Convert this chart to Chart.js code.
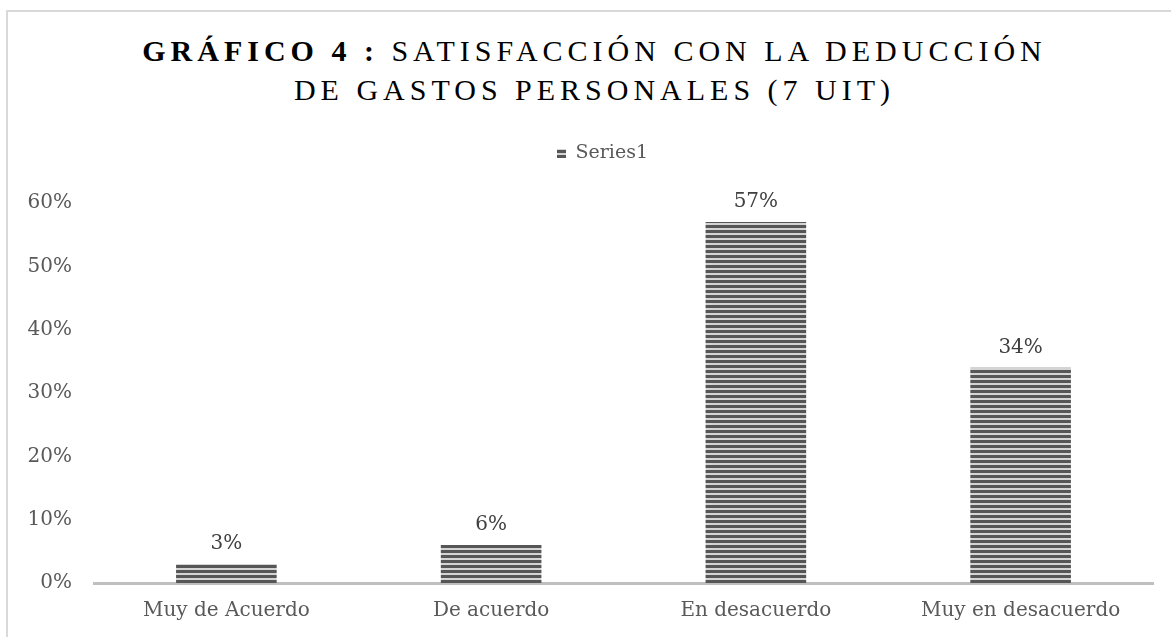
<!DOCTYPE html>
<html>
<head>
<meta charset="utf-8">
<script src="https://cdn.jsdelivr.net/npm/chart.js@4.4.0/dist/chart.umd.min.js"></script>
<style>
html, body { margin: 0; padding: 0; background: #fff; }
#wrap { position: relative; width: 1171px; height: 637px; overflow: hidden; }
#frame { position: absolute; left: 6px; top: 10px; width: 1300px; height: 800px; border-top: 2px solid #d9d9d9; border-left: 2px solid #d9d9d9; }
#title { position: absolute; left: 9px; top: 31px; width: 1171px; text-align: center; font-family: "Liberation Serif", serif; font-size: 30px; line-height: 39px; letter-spacing: 5px; color: #000; }
#chart { position: absolute; left: 0; top: 0; }
</style>
</head>
<body>
<div id="wrap">
  <div id="frame"></div>
  <div id="title"><b>GRÁFICO 4 :</b> SATISFACCIÓN CON LA DEDUCCIÓN<br>DE GASTOS PERSONALES (7 UIT)</div>
  <canvas id="chart" width="1171" height="637"></canvas>
</div>
<script>
const categories = ['Muy de Acuerdo', 'De acuerdo', 'En desacuerdo', 'Muy en desacuerdo'];
const seriesName = 'Series1';
const seriesValues = [0.03, 0.06, 0.57, 0.34];
const yTickValues = [0, 0.1, 0.2, 0.3, 0.4, 0.5, 0.6];

const pct = v => Math.round(v * 100) + '%';

// horizontal stripe fill like the office pattern
function stripePattern() {
    const c = document.createElement('canvas');
    c.width = 8; c.height = 5;
    const g = c.getContext('2d');
    g.fillStyle = '#d4d4d4';
    g.fillRect(0, 0, 8, 5);
    g.fillStyle = '#565656';
    g.fillRect(0, 0, 8, 3);
    return g.createPattern(c, 'repeat');
}

const barLabels = {
    id: 'barLabels',
    afterDatasetsDraw(chart) {
        const ctx = chart.ctx;
        const meta = chart.getDatasetMeta(0);
        ctx.save();
        ctx.font = '20px "DejaVu Serif"';
        ctx.fillStyle = '#404040';
        ctx.textAlign = 'center';
        ctx.textBaseline = 'alphabetic';
        meta.data.forEach((bar, i) => {
            ctx.fillText(pct(seriesValues[i]), bar.x, bar.y - 15);
        });
        ctx.restore();
    }
};

// extra room under the legend, and nudge it right like the original
const legendGap = {
    id: 'legendGap',
    beforeInit(chart) {
        const fit = chart.legend.fit;
        chart.legend.fit = function () {
            fit.bind(chart.legend)();
            this.height += 30;
        };
    },
    afterLayout(chart) {
        chart.legend.left += 26;
        chart.legend.right += 26;
    }
};

const fill = stripePattern();

new Chart(document.getElementById('chart').getContext('2d'), {
    type: 'bar',
    data: {
        labels: categories,
        datasets: [{
            label: seriesName,
            data: seriesValues,
            backgroundColor: fill,
            borderWidth: 0,
            categoryPercentage: 1,
            barPercentage: 0.38
        }]
    },
    options: {
        responsive: false,
        animation: false,
        layout: { padding: { top: 134, right: 18, bottom: 0, left: 0 } },
        plugins: {
            title: { display: false },
            tooltip: { enabled: false },
            legend: {
                position: 'top',
                labels: {
                    boxWidth: 9,
                    boxHeight: 9,
                    padding: 10,
                    color: '#595959',
                    font: { family: 'DejaVu Serif', size: 19 }
                }
            }
        },
        scales: {
            x: {
                grid: { display: false, drawTicks: false },
                border: { display: true, color: '#bfbfbf', width: 3 },
                ticks: { color: '#595959', padding: 16, font: { family: 'DejaVu Serif', size: 20 } },
                afterFit: s => { s.height = 54; }
            },
            y: {
                min: 0,
                max: 0.6,
                grid: { display: false, drawTicks: false },
                border: { display: false },
                afterBuildTicks: s => { s.ticks = yTickValues.map(v => ({ value: v })); },
                ticks: { color: '#595959', padding: 22, callback: v => pct(v), font: { family: 'DejaVu Serif', size: 20 } },
                afterFit: s => { s.width = 94; }
            }
        }
    },
    plugins: [barLabels, legendGap]
});
</script>
</body>
</html>
